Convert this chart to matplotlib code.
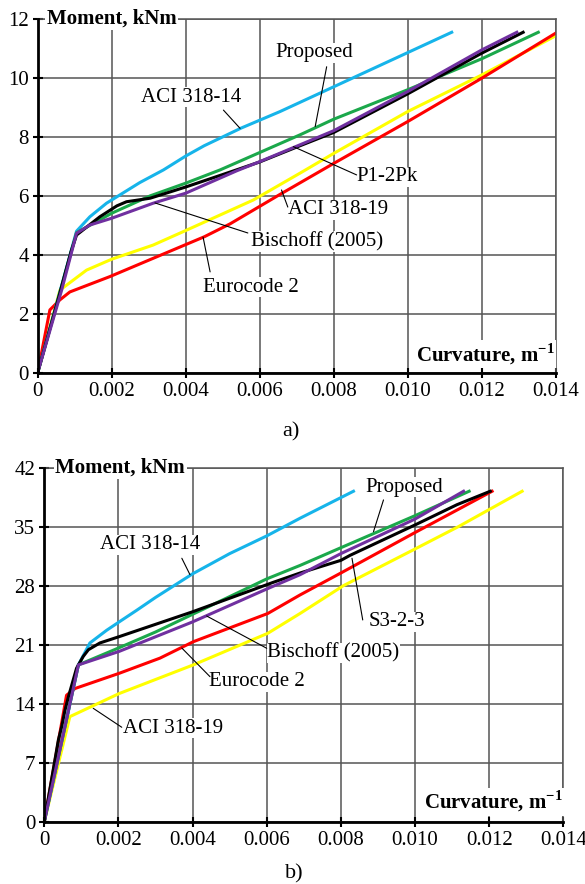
import numpy as np
import matplotlib
matplotlib.use("Agg")
from matplotlib import pyplot as plt

plt.rcParams['font.family'] = 'Liberation Serif'
plt.rcParams['mathtext.fontset'] = 'custom'
plt.rcParams['mathtext.rm'] = 'Liberation Serif'
plt.rcParams['mathtext.bf'] = 'Liberation Serif:bold'

## datos leidos del grafico a)
a_aci14_k = [0, 0.00105, 0.00141, 0.00186, 0.00222, 0.00276, 0.0034, 0.004, 0.0045, 0.005, 0.0055, 0.00655, 0.008, 0.010, 0.01119]
a_aci14_m = [0, 4.8, 5.29, 5.75, 6.03, 6.45, 6.88, 7.35, 7.7, 8.0, 8.3, 8.86, 9.7, 10.86, 11.55]
a_prop_k = [0, 0.00105, 0.002, 0.00304, 0.004, 0.00493, 0.006, 0.00709, 0.008, 0.010, 0.012, 0.01353]
a_prop_m = [0, 4.75, 5.41, 6.0, 6.43, 6.88, 7.47, 8.07, 8.6, 9.6, 10.65, 11.55]
a_exp_k = [0, 0.0006, 0.0009, 0.00105, 0.00168, 0.00214, 0.0024, 0.00304, 0.004, 0.0053, 0.006, 0.00709, 0.008, 0.010, 0.012, 0.01312]
a_exp_m = [0, 2.7, 4.1, 4.67, 5.29, 5.66, 5.8, 5.92, 6.3, 6.85, 7.15, 7.7, 8.15, 9.46, 10.84, 11.55]
a_bis_k = [0, 0.00065, 0.00105, 0.00141, 0.002, 0.00312, 0.004, 0.00538, 0.006, 0.008, 0.010, 0.012, 0.01295]
a_bis_m = [0, 2.81, 4.73, 5.01, 5.24, 5.75, 6.09, 6.85, 7.16, 8.21, 9.54, 10.95, 11.55]
a_aci19_k = [0, 0.0006, 0.00132, 0.002, 0.00312, 0.00403, 0.00583, 0.00709, 0.008, 0.010, 0.012, 0.014]
a_aci19_m = [0, 2.8, 3.48, 3.85, 4.33, 4.84, 5.86, 6.77, 7.44, 8.86, 10.1, 11.43]
a_ec2_k = [0, 0.00033, 0.0006, 0.00087, 0.00195, 0.00312, 0.0045, 0.0052, 0.00655, 0.008, 0.010, 0.012, 0.014]
a_ec2_m = [0, 2.13, 2.47, 2.74, 3.26, 3.88, 4.61, 5.05, 6.05, 7.1, 8.52, 9.99, 11.52]

## datos leidos del grafico b)
b_aci14_k = [0, 0.00092, 0.00123, 0.00168, 0.00202, 0.0025, 0.003, 0.0035, 0.004, 0.005, 0.006, 0.0069, 0.00834]
b_aci14_m = [0, 18.6, 21.2, 22.7, 23.7, 25.1, 26.6, 28.0, 29.4, 31.8, 33.9, 36.0, 39.2]
b_prop_k = [0, 0.00092, 0.002, 0.003, 0.004, 0.006, 0.0069, 0.008, 0.010, 0.01146]
b_prop_m = [0, 18.6, 20.6, 22.5, 24.6, 28.8, 30.4, 32.5, 36.3, 39.2]
b_exp_k = [0, 0.00038, 0.00047, 0.00056, 0.00065, 0.00087, 0.00105, 0.00119, 0.0015, 0.00202, 0.004, 0.00618, 0.0069,
           0.008, 0.00825, 0.010, 0.01113, 0.01203]
b_exp_m = [0, 9.7, 11.3, 13.25, 14.8, 18.2, 19.6, 20.4, 21.2, 21.95, 24.9, 28.4, 29.5, 31.0, 31.6, 35.2, 37.6, 39.2]
b_bis_k = [0, 0.00092, 0.00202, 0.004, 0.006, 0.0069, 0.008, 0.010, 0.01131]
b_bis_m = [0, 18.6, 20.2, 23.7, 27.6, 29.3, 31.8, 35.9, 39.2]
b_ec2_k = [0, 0.0006, 0.00083, 0.00202, 0.00312, 0.00402, 0.00603, 0.0069, 0.008, 0.010, 0.01208]
b_ec2_m = [0, 15.0, 15.8, 17.6, 19.4, 21.35, 24.7, 26.9, 29.5, 34.3, 39.2]
b_aci19_k = [0, 0.00069, 0.00202, 0.00402, 0.00603, 0.0069, 0.00807, 0.010, 0.01117, 0.01289]
b_aci19_m = [0, 12.46, 15.2, 18.6, 22.35, 24.7, 28.0, 32.35, 35.0, 39.2]

xticks = [0, 0.002, 0.004, 0.006, 0.008, 0.010, 0.012, 0.014]
xticklabels = ['0', '0.002', '0.004', '0.006', '0.008', '0.010', '0.012', '0.014']
a_yticks = [0, 2, 4, 6, 8, 10, 12]
b_yticks = [0, 7, 14, 21, 28, 35, 42]

c_blue = '#16b4ea'
c_green = '#1ba84b'
c_black = '#000000'
c_purple = '#7030a0'
c_yellow = '#ffff00'
c_red = '#ff0000'
grid_c = '#555555'

fig = plt.figure(figsize=(5.85, 8.84), dpi=100)
ax1 = fig.add_axes([0.0644, 0.5784, 0.8855, 0.4001])
ax2 = fig.add_axes([0.0757, 0.0705, 0.8872, 0.4005])

fs = 15


def base(ax, yticks):
  ax.set_xlim(0, 0.014)
  ax.set_ylim(yticks[0], yticks[-1])
  ax.set_xticks(xticks)
  ax.set_xticklabels(xticklabels)
  ax.set_yticks(yticks)
  ax.set_axisbelow(True)
  ax.grid(True, color=grid_c, lw=1.1)
  for s in ['top', 'right']:
    ax.spines[s].set_color(grid_c)
    ax.spines[s].set_linewidth(1.1)
  for s in ['left', 'bottom']:
    ax.spines[s].set_linewidth(2.0)
    ax.spines[s].set_zorder(6)
  ax.tick_params(direction='inout', length=7, width=1.5, labelsize=fs, pad=3)


def label(ax, txt, pos, a, b):
  ax.text(pos[0], pos[1], txt, fontsize=fs, ha='center', va='center', zorder=5,
          bbox=dict(facecolor='white', edgecolor='none', pad=0.3))
  ax.annotate('', xy=b, xytext=a, zorder=5,
              arrowprops=dict(arrowstyle='-', lw=0.8, color='black', shrinkA=0, shrinkB=0))


lw = 2.2
# grafico a)
base(ax1, a_yticks)
ax1.plot(a_aci19_k, a_aci19_m, color=c_yellow, lw=lw)
ax1.plot(a_ec2_k, a_ec2_m, color=c_red, lw=lw)
ax1.plot(a_aci14_k, a_aci14_m, color=c_blue, lw=lw)
ax1.plot(a_prop_k, a_prop_m, color=c_green, lw=lw)
ax1.plot(a_exp_k, a_exp_m, color=c_black, lw=lw)
ax1.plot(a_bis_k, a_bis_m, color=c_purple, lw=lw)

ax1.text(0.00025, 12, 'Moment, kNm', fontsize=fs, fontweight='bold', ha='left', va='center', zorder=5,
         bbox=dict(facecolor='white', edgecolor='none', pad=1))
ax1.text(0.01398, 0.63, r'Curvature, m$^{\mathbf{-1}}$', fontsize=fs, fontweight='bold', ha='right', va='center',
         zorder=5, bbox=dict(facecolor='white', edgecolor='none', pad=1))
label(ax1, 'Proposed', (0.00747, 10.85), (0.00781, 10.38), (0.0075, 8.35))
label(ax1, 'ACI 318-14', (0.00414, 9.35), (0.00502, 8.91), (0.00547, 8.29))
label(ax1, 'P1-2Pk', (0.00945, 6.65), (0.00862, 6.71), (0.00691, 7.67))
label(ax1, 'ACI 318-19', (0.00812, 5.52), (0.00676, 5.62), (0.00659, 6.2))
label(ax1, 'Bischoff (2005)', (0.00754, 4.45), (0.00568, 4.74), (0.00317, 5.76))
label(ax1, 'Eurocode 2', (0.00576, 2.9), (0.00466, 3.42), (0.00447, 4.6))

# grafico b)
base(ax2, b_yticks)
ax2.plot(b_aci19_k, b_aci19_m, color=c_yellow, lw=lw)
ax2.plot(b_ec2_k, b_ec2_m, color=c_red, lw=lw)
ax2.plot(b_aci14_k, b_aci14_m, color=c_blue, lw=lw)
ax2.plot(b_prop_k, b_prop_m, color=c_green, lw=lw)
ax2.plot(b_exp_k, b_exp_m, color=c_black, lw=lw)
ax2.plot(b_bis_k, b_bis_m, color=c_purple, lw=lw)

ax2.text(0.0003, 42, 'Moment, kNm', fontsize=fs, fontweight='bold', ha='left', va='center', zorder=5,
         bbox=dict(facecolor='white', edgecolor='none', pad=1))
ax2.text(0.01398, 2.37, r'Curvature, m$^{\mathbf{-1}}$', fontsize=fs, fontweight='bold', ha='right', va='center',
         zorder=5, bbox=dict(facecolor='white', edgecolor='none', pad=1))
label(ax2, 'Proposed', (0.00972, 39.7), (0.00915, 38.17), (0.00888, 34.4))
label(ax2, 'ACI 318-14', (0.00285, 32.83), (0.00371, 31.25), (0.00393, 29.3))
label(ax2, 'S3-2-3', (0.00951, 23.73), (0.00859, 23.93), (0.0083, 31.25))
label(ax2, 'Bischoff (2005)', (0.00779, 19.98), (0.006, 20.57), (0.00438, 24.4))
label(ax2, 'Eurocode 2', (0.00573, 16.61), (0.00447, 17.2), (0.00371, 20.6))
label(ax2, 'ACI 318-19', (0.00348, 11.08), (0.00209, 11.2), (0.00132, 13.45))

fig.text(291 / 585, 1 - 432 / 884, 'a)', fontsize=16, ha='center', va='center')
fig.text(294 / 585, 1 - 874 / 884, 'b)', fontsize=16, ha='center', va='center')

plt.savefig('out.png', dpi=100)
